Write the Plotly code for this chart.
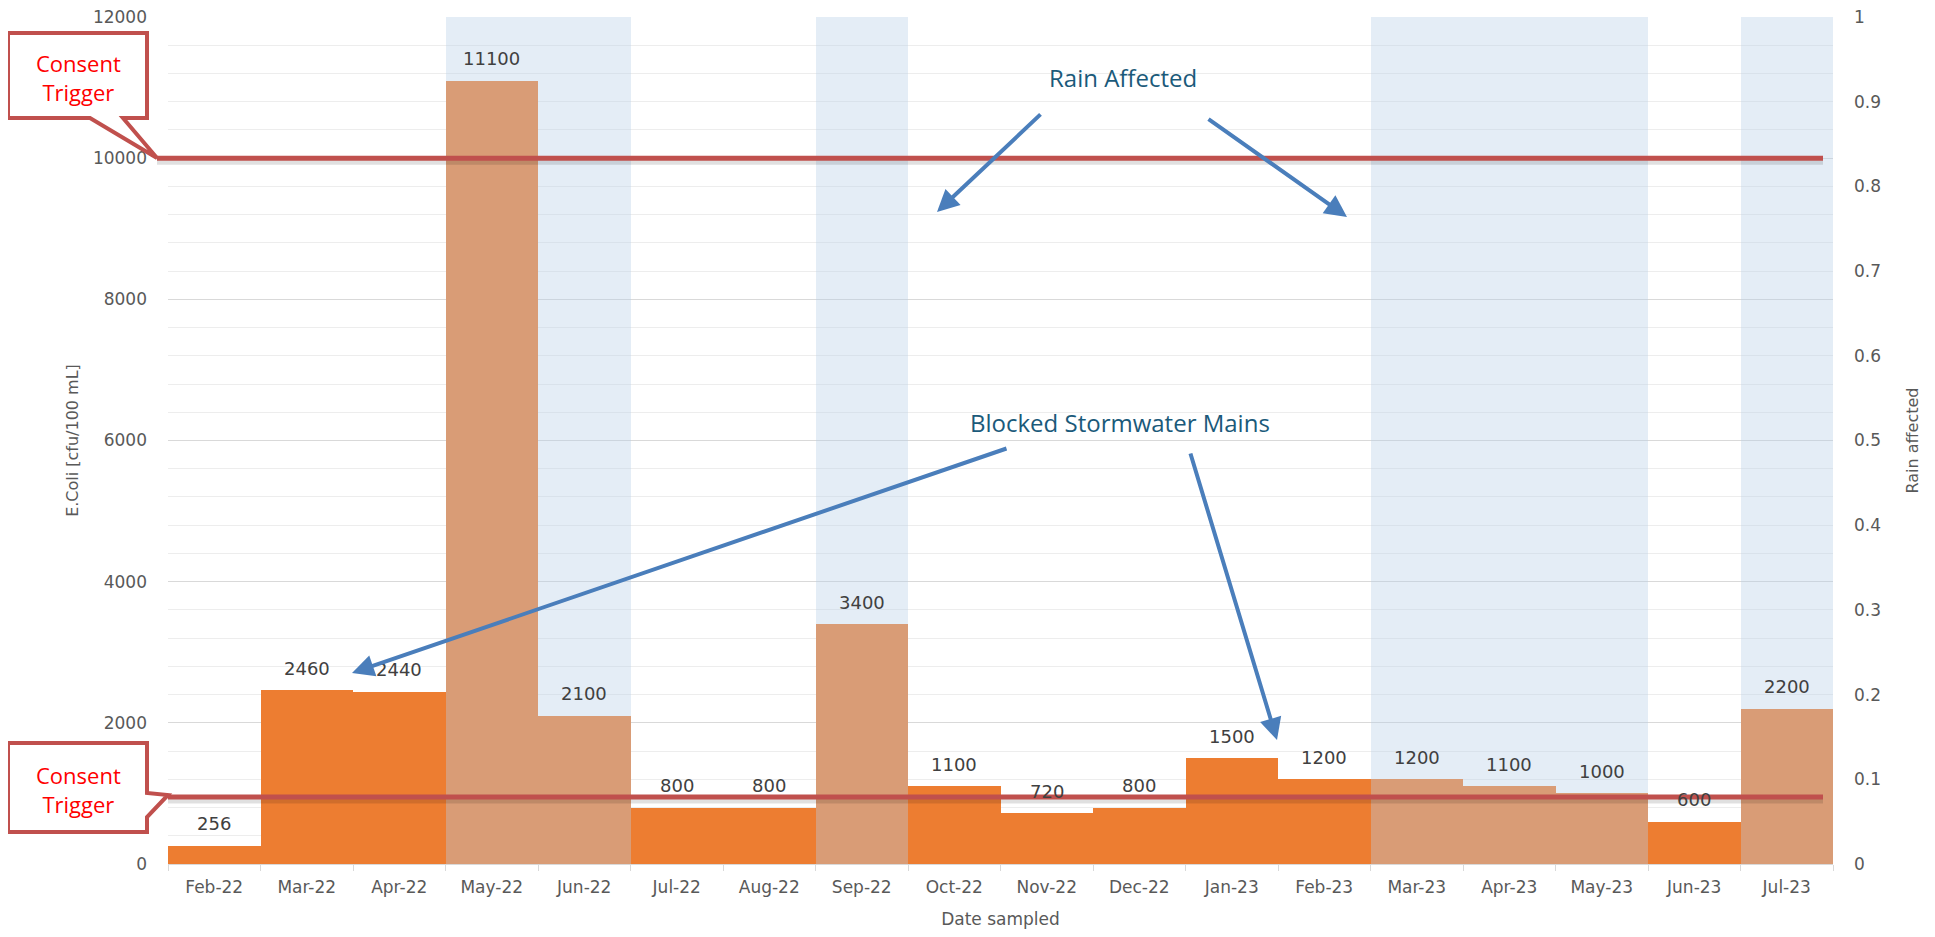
import plotly.graph_objects as go

# Data
months = ["Feb-22", "Mar-22", "Apr-22", "May-22", "Jun-22", "Jul-22", "Aug-22", "Sep-22", "Oct-22",
          "Nov-22", "Dec-22", "Jan-23", "Feb-23", "Mar-23", "Apr-23", "May-23", "Jun-23", "Jul-23"]
ecoli = [256, 2460, 2440, 11100, 2100, 800, 800, 3400, 1100,
         720, 800, 1500, 1200, 1200, 1100, 1000, 600, 2200]
rain_affected = [0, 0, 0, 1, 1, 0, 0, 1, 0, 0, 0, 0, 0, 1, 1, 1, 0, 1]
consent_upper = 10000
consent_lower = 950

# page body has an 8px margin, so the figure is a bit smaller than the window
OFF = 8
W, H = 1919, 921
L, R, T, B = 160, 94, 9, 65
PW, PH = W - L - R, H - T - B


def px(x, y):
    # window pixel position -> paper coordinates (for the hand-drawn callouts)
    return (x - OFF - L) / PW, (OFF + H - B - y) / PH


def path_from(points):
    pts = [px(x, y) for x, y in points]
    return "M " + " L ".join(f"{a:.5f},{b:.5f}" for a, b in pts) + " Z"


grey = "#595959"
tick_font = dict(family="DejaVu Sans", size=17, color=grey)

fig = go.Figure()

fig.add_trace(go.Bar(
    x=months, y=ecoli, yaxis="y",
    marker_color="#ED7D31", marker_line_width=0,
    name="E.Coli", width=1,
))

# rain affected series on secondary axis, translucent blue over the bars
fig.add_trace(go.Bar(
    x=months, y=rain_affected, yaxis="y2",
    marker_color="rgba(183,207,231,0.38)", marker_line_width=0,
    name="Rain affected", width=1,
))

# data labels
for m, v in zip(months, ecoli):
    fig.add_annotation(x=m, y=v, xref="x", yref="y", text=str(v), showarrow=False,
                       yanchor="middle", yshift=22,
                       font=dict(family="DejaVu Sans", size=18, color="#404040"))

# consent trigger lines (with a soft shadow)
x_end = px(1823, 0)[0]
for level, x_start in ((consent_upper, px(157, 0)[0]), (consent_lower, 0)):
    fig.add_shape(type="line", xref="paper", yref="y", x0=x_start, x1=x_end,
                  ysizemode="pixel", yanchor=level, y0=-4, y1=-4,
                  line=dict(color="rgba(0,0,0,0.12)", width=5), layer="above")
    fig.add_shape(type="line", xref="paper", yref="y", x0=x_start, x1=x_end,
                  y0=level, y1=level, line=dict(color="#C0504D", width=5), layer="above")

# callout boxes
top_box = [(8, 33), (147, 33), (147, 118), (123, 118), (157, 158), (90, 118), (8, 118)]
bot_box = [(8, 743), (147, 743), (147, 793), (168, 795), (147, 817), (147, 832), (8, 832)]
for pts in (top_box, bot_box):
    fig.add_shape(type="path", xref="paper", yref="paper", path=path_from(pts),
                  line=dict(color="#C0504D", width=4), fillcolor="white", layer="above")

for cx, cy in ((78, 77), (78, 789)):
    x, y = px(cx, cy)
    fig.add_annotation(x=x, y=y, xref="paper", yref="paper", text="Consent<br>Trigger",
                       showarrow=False, xanchor="center", yanchor="middle",
                       font=dict(family="Open Sans", size=22, color="#FF0000"))

# text labels
note_font = dict(family="Open Sans", size=24, color="#1B5A7A")
for txt, cx, cy in (("Rain Affected", 1123, 77), ("Blocked Stormwater Mains", 1120, 423)):
    x, y = px(cx, cy)
    fig.add_annotation(x=x, y=y, xref="paper", yref="paper", text=txt, showarrow=False,
                       xanchor="center", yanchor="middle", font=note_font)

# arrows: (tail, tip) in pixels
arrows = [((1042, 113), (937, 212)), ((1207, 118), (1347, 217)),
          ((1008, 448), (352, 673)), ((1190, 452), (1277, 740))]
for (tx, ty), (hx, hy) in arrows:
    x, y = px(hx, hy)
    fig.add_annotation(x=x, y=y, xref="paper", yref="paper", text="", showarrow=True,
                       ax=tx - hx, ay=ty - hy, arrowhead=2, arrowsize=1.1, arrowwidth=4,
                       arrowcolor="#4A7EBB", standoff=0)

fig.update_layout(
    width=W, height=H,
    margin=dict(l=L, r=R, t=T, b=B, pad=0, autoexpand=False),
    plot_bgcolor="white", paper_bgcolor="white",
    barmode="overlay", bargap=0,
    showlegend=False,
    xaxis=dict(
        type="category", range=[-0.5, len(months) - 0.5], automargin=False,
        tickson="boundaries", ticks="outside", ticklen=6, tickcolor="#D9D9D9",
        showline=True, linecolor="#D9D9D9", linewidth=1, showgrid=False,
        tickfont=tick_font, ticklabelstandoff=8,
        title=dict(text="Date sampled", font=dict(family="DejaVu Sans", size=17, color=grey), standoff=16),
    ),
    yaxis=dict(
        range=[0, 12000], tickvals=list(range(0, 12001, 2000)), tickformat="d",
        automargin=False, ticklabeloverflow="allow",
        showgrid=True, gridcolor="#D9D9D9", gridwidth=1,
        minor=dict(dtick=400, showgrid=True, gridcolor="#EDEDED", gridwidth=1),
        zeroline=False, showline=False, tickfont=tick_font, ticklabelstandoff=20,
        title=dict(text="E.Coli [cfu/100 mL]", font=dict(family="DejaVu Sans", size=16, color=grey), standoff=10),
    ),
    yaxis2=dict(
        range=[0, 1], tickvals=[i / 10 for i in range(11)],
        ticktext=["0"] + [f"{i / 10:g}" for i in range(1, 11)],
        automargin=False, ticklabeloverflow="allow",
        overlaying="y", side="right", showgrid=False,
        zeroline=False, showline=False, tickfont=tick_font, ticklabelstandoff=20,
        title=dict(text="Rain affected", font=dict(family="DejaVu Sans", size=16, color=grey), standoff=26),
    ),
)

fig.write_html("out.html")
